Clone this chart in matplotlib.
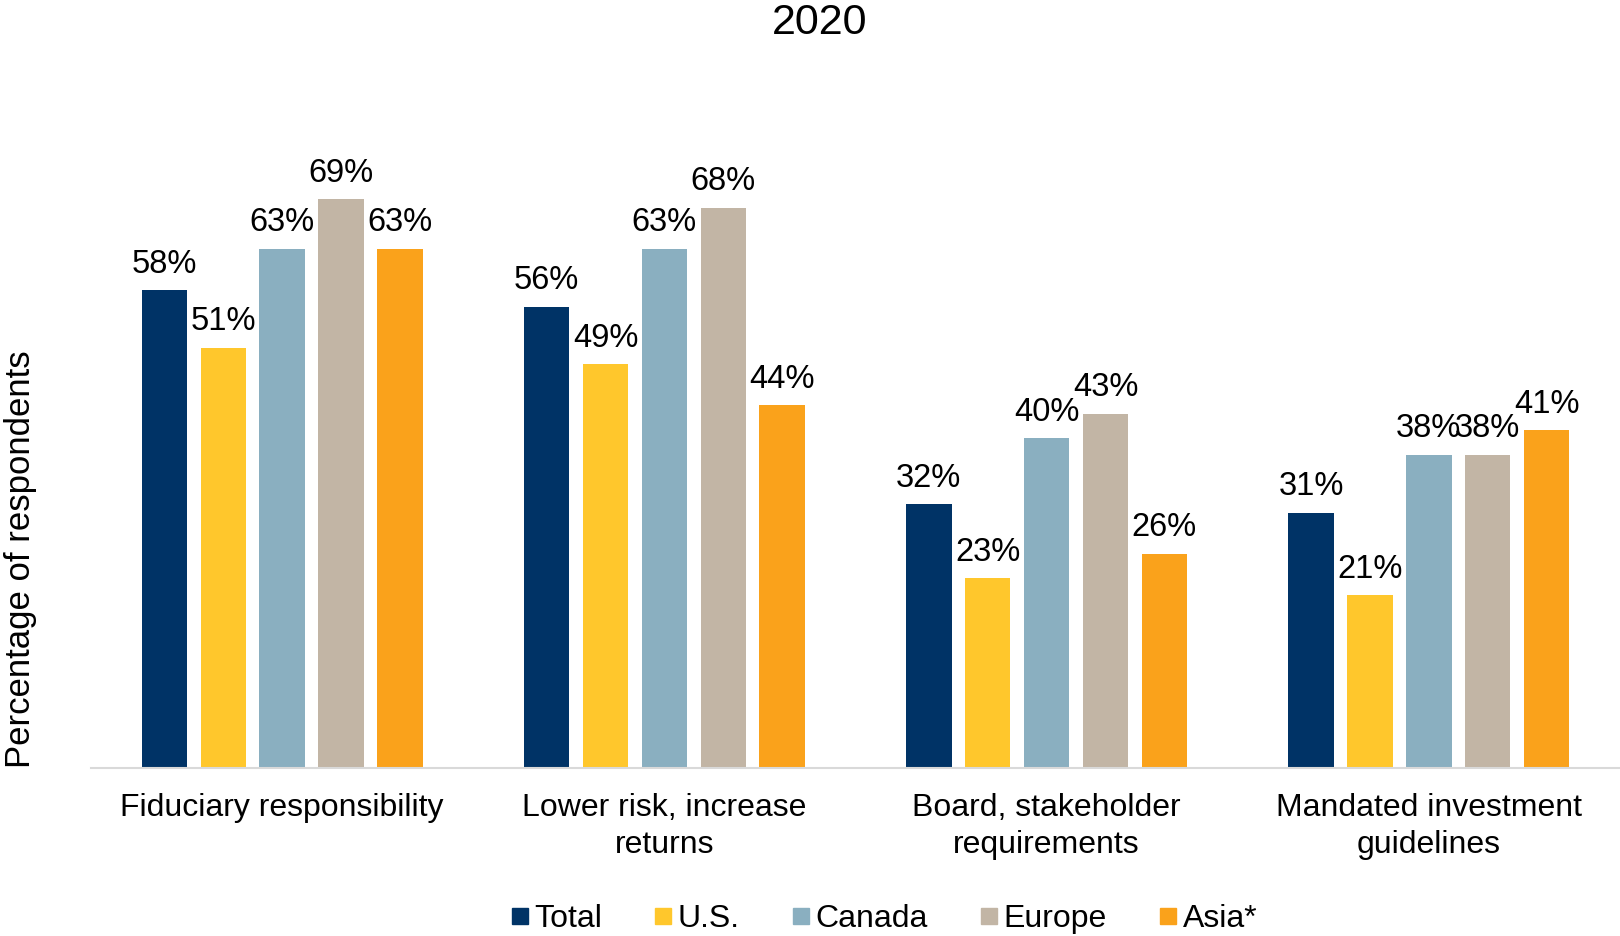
import matplotlib
matplotlib.use("Agg")
import matplotlib.pyplot as plt
from matplotlib.lines import Line2D
import numpy as np

plt.rcParams['font.family'] = ['Liberation Sans', 'DejaVu Sans']

categories = ["Fiduciary responsibility", "Lower risk, increase\nreturns",
              "Board, stakeholder\nrequirements", "Mandated investment\nguidelines"]
series_names = ["Total", "U.S.", "Canada", "Europe", "Asia*"]
total = [58, 56, 32, 31]
us = [51, 49, 23, 21]
canada = [63, 63, 40, 38]
europe = [69, 68, 43, 38]
asia = [63, 44, 26, 41]
series_values = [total, us, canada, europe, asia]
colors = ["#003366", "#FFC72C", "#8AAFC0", "#C2B5A5", "#FAA21B"]

fig = plt.figure(figsize=(16.2, 9.36), dpi=100)
ax = fig.add_axes([91/1620, 1-768/936, 1-91/1620, (768-108.8)/936])

x = np.arange(len(categories))
step = 57/370
width = 44/370
for i, (name, vals, c) in enumerate(zip(series_names, series_values, colors)):
    pos = x + (i-2)*step
    bars = ax.bar(pos, vals, width, color=c, label=name)
    for b, v in zip(bars, vals):
        ax.annotate(f"{v}%", (b.get_x()+b.get_width()/2, v), xytext=(0, 7.5),
                    textcoords="offset points", ha="center", va="bottom",
                    fontsize=23.5, color="black")

ax.set_xlim(-0.5, 3.5)
ax.set_ylim(0, 80)
ax.set_xticks(x)
ax.set_xticklabels(categories, fontsize=23, linespacing=1.3)
ax.tick_params(axis='x', length=0, pad=18)
ax.set_yticks([])
for s in ["top", "right", "left"]:
    ax.spines[s].set_visible(False)
ax.spines["bottom"].set_color("#D9D9D9")
ax.spines["bottom"].set_linewidth(1.5)

fig.text(0.506, 1-23/936, "2020", fontsize=31, ha="center", va="center")
fig.text(21/1620, 1-768/936, "Percentage of respondents", rotation=90,
         fontsize=25, ha="center", va="bottom")

handles = [Line2D([0], [0], marker='s', linestyle='none', markersize=11,
                  markerfacecolor=c, markeredgecolor=c) for c in colors]
fig.legend(handles, series_names, loc="center", bbox_to_anchor=(0.5455, 1-919/936),
           ncol=5, frameon=False, fontsize=23, handletextpad=0.15,
           columnspacing=1.62, handlelength=0.6)

fig.savefig("out.png", dpi=100)
